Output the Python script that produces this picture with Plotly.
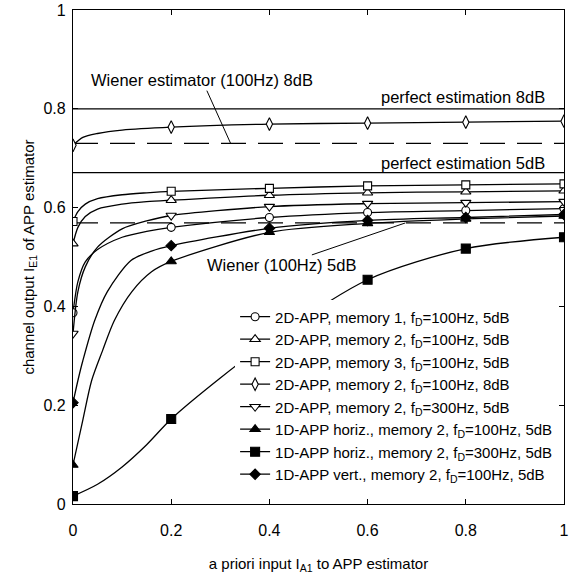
import plotly.graph_objects as go

X_MARK = [0, 0.2, 0.4, 0.6, 0.8, 1.0]

# curves
x_m1 = [0, 0.01, 0.025, 0.05, 0.1, 0.15, 0.2, 0.4, 0.6, 0.8, 1.0]
y_m1 = [0.387, 0.45, 0.49, 0.515, 0.54, 0.552, 0.560, 0.580, 0.590, 0.594, 0.598]

x_m2 = [0, 0.01, 0.025, 0.05, 0.1, 0.15, 0.2, 0.4, 0.6, 0.8, 1.0]
y_m2 = [0.527, 0.56, 0.582, 0.597, 0.607, 0.612, 0.615, 0.625, 0.630, 0.632, 0.634]

x_m3 = [0, 0.01, 0.025, 0.05, 0.1, 0.15, 0.2, 0.4, 0.6, 0.8, 1.0]
y_m3 = [0.572, 0.592, 0.607, 0.618, 0.626, 0.630, 0.633, 0.639, 0.644, 0.646, 0.648]

x_8db = [0, 0.02, 0.05, 0.1, 0.2, 0.4, 0.6, 0.8, 1.0]
y_8db = [0.726, 0.742, 0.750, 0.757, 0.763, 0.769, 0.771, 0.773, 0.775]

x_300 = [0, 0.01, 0.025, 0.05, 0.1, 0.15, 0.2, 0.4, 0.6, 0.8, 1.0]
y_300 = [0.345, 0.43, 0.48, 0.52, 0.557, 0.573, 0.584, 0.602, 0.608, 0.610, 0.612]

x_h100 = [0, 0.02, 0.038, 0.06, 0.084, 0.12, 0.16, 0.2, 0.4, 0.6, 0.8, 1.0]
y_h100 = [0.079, 0.17, 0.25, 0.31, 0.371, 0.43, 0.47, 0.491, 0.550, 0.568, 0.577, 0.583]

x_h300 = [0, 0.05, 0.1, 0.15, 0.2, 0.3, 0.4, 0.6, 0.8, 1.0]
y_h300 = [0.016, 0.04, 0.075, 0.12, 0.172, 0.255, 0.33, 0.454, 0.517, 0.540]

x_v100 = [0, 0.01, 0.02, 0.044, 0.07, 0.118, 0.16, 0.2, 0.4, 0.6, 0.8, 1.0]
y_v100 = [0.205, 0.25, 0.29, 0.371, 0.43, 0.493, 0.512, 0.523, 0.558, 0.574, 0.580, 0.586]

# reference levels
PERFECT_8DB = 0.80
PERFECT_5DB = 0.671
WIENER_8DB = 0.730
WIENER_5DB = 0.569

names = [
    "2D-APP, memory 1, f<sub>D</sub>=100Hz, 5dB",
    "2D-APP, memory 2, f<sub>D</sub>=100Hz, 5dB",
    "2D-APP, memory 3, f<sub>D</sub>=100Hz, 5dB",
    "2D-APP, memory 2, f<sub>D</sub>=100Hz, 8dB",
    "2D-APP, memory 2, f<sub>D</sub>=300Hz, 5dB",
    "1D-APP horiz., memory 2, f<sub>D</sub>=100Hz, 5dB",
    "1D-APP horiz., memory 2, f<sub>D</sub>=300Hz, 5dB",
    "1D-APP vert., memory 2, f<sub>D</sub>=100Hz, 5dB",
]

series = [
    (x_m1, y_m1, "circle", "white", 8),
    (x_m2, y_m2, "triangle-up", "white", 9),
    (x_m3, y_m3, "square", "white", 8),
    (x_8db, y_8db, "diamond-tall", "white", 9),
    (x_300, y_300, "triangle-down", "white", 9),
    (x_h100, y_h100, "triangle-up", "black", 9),
    (x_h300, y_h300, "square", "black", 9),
    (x_v100, y_v100, "diamond", "black", 8),
]

FONT = "Liberation Sans, Arial, Helvetica, sans-serif"
fig = go.Figure()

# reference lines
for yv, dash in [(PERFECT_8DB, "solid"), (PERFECT_5DB, "solid"),
                 (WIENER_8DB, "25px,12px"), (WIENER_5DB, "25px,12px")]:
    fig.add_trace(go.Scatter(x=[0, 1], y=[yv, yv], mode="lines",
                             line=dict(color="black", width=1.2, dash=dash),
                             showlegend=False, hoverinfo="skip"))

for (xs, ys, sym, fill, ms), nm in zip(series, names):
    fig.add_trace(go.Scatter(x=xs, y=ys, mode="lines",
                             line=dict(color="black", width=1.3, shape="spline", smoothing=0.8),
                             showlegend=False))
    mx = [x for x in xs if any(abs(x - g) < 1e-9 for g in X_MARK)]
    my = [y for x, y in zip(xs, ys) if any(abs(x - g) < 1e-9 for g in X_MARK)]
    fig.add_trace(go.Scatter(x=mx, y=my, mode="markers",
                             marker=dict(symbol=sym, size=ms, color=fill,
                                         line=dict(color="black", width=1.1)),
                             showlegend=False))
    fig.add_trace(go.Scatter(x=[None], y=[None], mode="lines+markers", name=nm,
                             line=dict(color="black", width=1.3),
                             marker=dict(symbol=sym, size=ms, color=fill,
                                         line=dict(color="black", width=1.1))))

fig.add_annotation(x=0.965, y=0.824, xref="x", yref="y", text="perfect estimation 8dB",
                   showarrow=False, xanchor="right", yanchor="middle")
fig.add_annotation(x=0.965, y=0.690, xref="x", yref="y", text="perfect estimation 5dB",
                   showarrow=False, xanchor="right", yanchor="middle")
fig.add_annotation(x=0.321, y=WIENER_8DB, ax=0.263, ay=0.858, axref="x", ayref="y",
                   xref="x", yref="y", text="Wiener estimator (100Hz) 8dB",
                   showarrow=True, arrowhead=0, arrowwidth=1, arrowcolor="black", standoff=0)
fig.add_annotation(x=0.677, y=WIENER_5DB, ax=0.424, ay=0.483, axref="x", ayref="y",
                   xref="x", yref="y", text="Wiener (100Hz) 5dB",
                   showarrow=True, arrowhead=0, arrowwidth=1, arrowcolor="black", standoff=0)

axis_common = dict(showgrid=False, zeroline=False, showline=True, linecolor="black",
                   linewidth=1.2, mirror="ticks", ticks="inside", ticklen=5,
                   tickcolor="black", tickfont=dict(size=16, color="black"),
                   ticklabeloverflow="allow")

fig.update_xaxes(range=[0, 1], tickvals=X_MARK, ticktext=["0", "0.2", "0.4", "0.6", "0.8", "1"],
                 title=dict(text="a priori input I<sub>A1</sub> to APP estimator",
                            font=dict(size=15), standoff=20),
                 ticklabelstandoff=12, **axis_common)
fig.update_yaxes(range=[0, 1], tickvals=[0, 0.2, 0.4, 0.6, 0.8, 1],
                 ticktext=["0", "0.2", "0.4", "0.6", "0.8", "1"],
                 title=dict(text="channel output I<sub>E1</sub> of APP estimator",
                            font=dict(size=15), standoff=5),
                 ticklabelstandoff=3, **axis_common)

fig.update_layout(
    width=571, height=574,
    margin=dict(l=73, r=2, t=10, b=70),
    plot_bgcolor="white", paper_bgcolor="white",
    font=dict(family=FONT, size=16.5, color="black"),
    legend=dict(x=0.988, y=0.412, xanchor="right", yanchor="top",
                bgcolor="white", borderwidth=0, font=dict(size=15),
                tracegroupgap=0, itemwidth=30),
)

fig.write_html("out.html")
